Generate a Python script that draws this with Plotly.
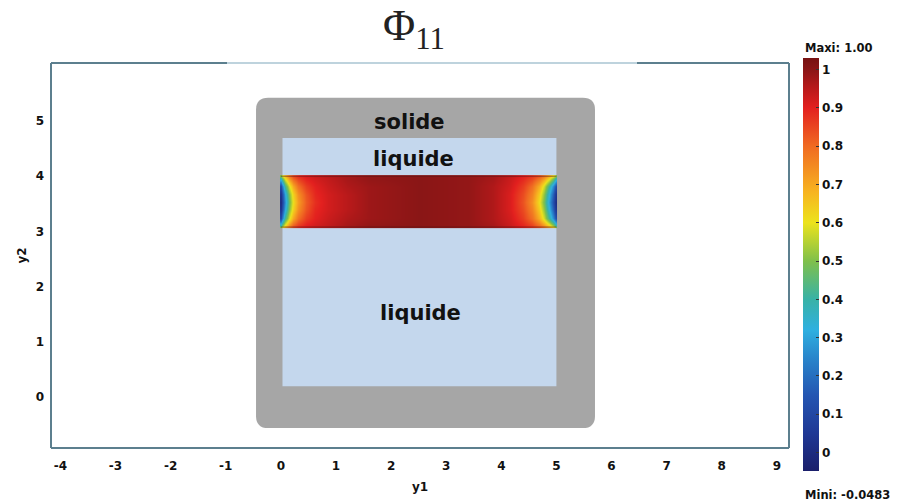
import plotly.graph_objects as go

# ---------------- data ----------------
# domain geometry (data coordinates)
solid_x = [-0.45, 5.70]
solid_y = [-0.56, 5.42]
liquid_x = [0.03, 5.0]
liquid_y = [0.20, 4.69]

phi_x = [0.0, 0.03, 0.08, 0.14, 0.22, 0.32, 0.45, 0.62, 0.85, 1.2, 1.6, 2.5,
         3.4, 3.85, 4.15, 4.4, 4.55, 4.68, 4.78, 4.87, 4.94, 4.98, 5.0]
phi_y = [3.08, 3.12, 3.25, 3.40, 3.54, 3.68, 3.83, 3.96, 4.0]
phi_z = [
    [0.50, 0.57, 0.68, 0.77, 0.84, 0.88, 0.91, 0.93, 0.95, 0.97, 0.99, 1.0,
     0.99, 0.97, 0.94, 0.90, 0.87, 0.83, 0.77, 0.69, 0.61, 0.55, 0.50],
    [0.38, 0.47, 0.61, 0.73, 0.81, 0.86, 0.90, 0.92, 0.94, 0.97, 0.99, 1.0,
     0.99, 0.97, 0.93, 0.89, 0.85, 0.79, 0.72, 0.62, 0.51, 0.42, 0.38],
    [0.12, 0.22, 0.42, 0.58, 0.70, 0.79, 0.86, 0.90, 0.93, 0.96, 0.98, 1.0,
     0.99, 0.96, 0.92, 0.86, 0.79, 0.69, 0.57, 0.41, 0.26, 0.16, 0.12],
    [0.04, 0.12, 0.31, 0.50, 0.63, 0.74, 0.83, 0.89, 0.92, 0.95, 0.98, 1.0,
     0.99, 0.96, 0.91, 0.84, 0.76, 0.64, 0.51, 0.33, 0.17, 0.07, 0.04],
    [0.01, 0.09, 0.27, 0.47, 0.61, 0.72, 0.82, 0.88, 0.92, 0.95, 0.98, 1.0,
     0.99, 0.96, 0.91, 0.83, 0.74, 0.61, 0.48, 0.29, 0.13, 0.04, 0.01],
    [0.04, 0.12, 0.31, 0.50, 0.63, 0.74, 0.83, 0.89, 0.92, 0.95, 0.98, 1.0,
     0.99, 0.96, 0.91, 0.84, 0.76, 0.64, 0.51, 0.33, 0.17, 0.07, 0.04],
    [0.12, 0.22, 0.42, 0.58, 0.70, 0.79, 0.86, 0.90, 0.93, 0.96, 0.98, 1.0,
     0.99, 0.96, 0.92, 0.86, 0.79, 0.69, 0.57, 0.41, 0.26, 0.16, 0.12],
    [0.38, 0.47, 0.61, 0.73, 0.81, 0.86, 0.90, 0.92, 0.94, 0.97, 0.99, 1.0,
     0.99, 0.97, 0.93, 0.89, 0.85, 0.79, 0.72, 0.62, 0.51, 0.42, 0.38],
    [0.50, 0.57, 0.68, 0.77, 0.84, 0.88, 0.91, 0.93, 0.95, 0.97, 0.99, 1.0,
     0.99, 0.97, 0.94, 0.90, 0.87, 0.83, 0.77, 0.69, 0.61, 0.55, 0.50],
]
phi_min = -0.0483
phi_max = 1.00

# labels
region_labels = ["solide", "liquide", "liquide"]
region_label_x = [2.33, 2.40, 2.53]
region_label_y = [4.98, 4.31, 1.52]

x_ticks = list(range(-4, 10))
x_tick_text = [str(v) for v in x_ticks]
y_ticks = list(range(0, 6))
cbar_ticks = [0, 0.1, 0.2, 0.3, 0.4, 0.5, 0.6, 0.7, 0.8, 0.9, 1.0]

# ---------------- style ----------------
CMIN, CMAX = phi_min, 1.03
stops = [
    (-0.0483, "#1b1f6b"),
    (0.05, "#1f3895"),
    (0.15, "#2456b2"),
    (0.25, "#2987cc"),
    (0.32, "#2fb0e0"),
    (0.40, "#38b2a6"),
    (0.50, "#80c04a"),
    (0.60, "#ece31c"),
    (0.68, "#f7b420"),
    (0.80, "#f06a22"),
    (0.90, "#e3201f"),
    (0.955, "#b5191a"),
    (1.00, "#8a1616"),
    (1.03, "#761212"),
]
colorscale = [[(v - CMIN) / (CMAX - CMIN), c] for v, c in stops]

AX_COLOR = "#5c7f8e"
BOLD = "DejaVu Sans"
TICK_FONT = dict(family=BOLD, size=12, color="#111", weight="bold")

fig = go.Figure()

fig.add_trace(go.Heatmap(
    x=phi_x, y=phi_y, z=phi_z,
    zmin=CMIN, zmax=CMAX, zsmooth="best",
    colorscale=colorscale,
    hoverinfo="skip",
    colorbar=dict(
        x=(803 - 51) / 738, xanchor="left", xref="paper",
        y=(448 - 58) / 385, yanchor="top", yref="paper",
        len=413, lenmode="pixels",
        thickness=16, thicknessmode="pixels",
        outlinewidth=0,
        tickvals=cbar_ticks,
        ticks="inside", ticklen=3, tickcolor="#333",
        tickfont=dict(family=BOLD, size=12, color="#111", weight="bold"),
        ticklabelposition="outside",
        xpad=0, ypad=0,
    ),
))

shapes = []
# solid (rounded rectangle)
r = 0.22
x0, x1 = solid_x
y0, y1 = solid_y
path = (f"M {x0+r},{y0} L {x1-r},{y0} Q {x1},{y0} {x1},{y0+r} "
        f"L {x1},{y1-r} Q {x1},{y1} {x1-r},{y1} L {x0+r},{y1} "
        f"Q {x0},{y1} {x0},{y1-r} L {x0},{y0+r} Q {x0},{y0} {x0+r},{y0} Z")
shapes.append(dict(type="path", path=path, xref="x", yref="y",
                   fillcolor="#a6a6a6", line=dict(width=0), layer="below"))
shapes.append(dict(type="rect", xref="x", yref="y",
                   x0=liquid_x[0], x1=liquid_x[1], y0=liquid_y[0], y1=liquid_y[1],
                   fillcolor="#c4d7ed", line=dict(width=0), layer="below"))
# band boundary lines
for yy in (phi_y[0], phi_y[-1]):
    shapes.append(dict(type="line", xref="x", yref="y", x0=phi_x[0], x1=phi_x[-1],
                       y0=yy, y1=yy, line=dict(color="rgba(80,20,20,0.55)", width=1)))


def px(xp):
    return (xp - 51) / 738


def py(yp):
    return (448 - yp) / 385


frame = [
    (51, 448, 789, 448, AX_COLOR, 2),
    (51, 63, 51, 448, AX_COLOR, 2),
    (789, 63, 789, 448, AX_COLOR, 2),
    (51, 63, 227, 63, AX_COLOR, 2),
    (227, 63, 637, 63, "#a9c4d2", 1.5),
    (637, 63, 789, 63, AX_COLOR, 2),
]
for a, b, c, d, col, w in frame:
    shapes.append(dict(type="line", xref="paper", yref="paper",
                       x0=px(a), y0=py(b), x1=px(c), y1=py(d),
                       line=dict(color=col, width=w)))

annotations = []
for t, xx, yy in zip(region_labels, region_label_x, region_label_y):
    annotations.append(dict(text=t, x=xx, y=yy, xref="x", yref="y", showarrow=False,
                            font=dict(family=BOLD, size=21, color="#111", weight="bold")))
annotations.append(dict(text="Φ<sub>11</sub>", x=px(414), y=py(28), xref="paper", yref="paper",
                        showarrow=False, xanchor="center", yanchor="middle",
                        font=dict(family="Liberation Serif", size=44, color="#222")))
annotations.append(dict(text=f"Maxi: {phi_max:.2f}", x=px(803), y=py(48), xref="paper", yref="paper",
                        showarrow=False, xanchor="left", yanchor="middle",
                        font=dict(family=BOLD, size=11.5, color="#111", weight="bold")))
annotations.append(dict(text=f"Mini: {phi_min}", x=px(803), y=py(495), xref="paper", yref="paper",
                        showarrow=False, xanchor="left", yanchor="middle",
                        font=dict(family=BOLD, size=11.5, color="#111", weight="bold")))

fig.update_layout(
    width=920, height=501,
    margin=dict(l=51, r=131, t=63, b=53),
    paper_bgcolor="white", plot_bgcolor="white",
    shapes=shapes, annotations=annotations,
    showlegend=False,
    xaxis=dict(range=[-4.17, 9.22], tickvals=x_ticks, ticktext=x_tick_text,
               showgrid=False, zeroline=False,
               showline=False, ticks="", tickfont=TICK_FONT, ticklabelstandoff=9,
               title=dict(text="y1", font=TICK_FONT, standoff=10), automargin=False,
               fixedrange=True),
    yaxis=dict(range=[-0.92, 6.05], tickvals=y_ticks, showgrid=False, zeroline=False,
               showline=False, ticks="", tickfont=TICK_FONT, ticklabelstandoff=6,
               title=dict(text="y2", font=TICK_FONT, standoff=6), automargin=False,
               fixedrange=True),
)

fig.write_html("out.html")
